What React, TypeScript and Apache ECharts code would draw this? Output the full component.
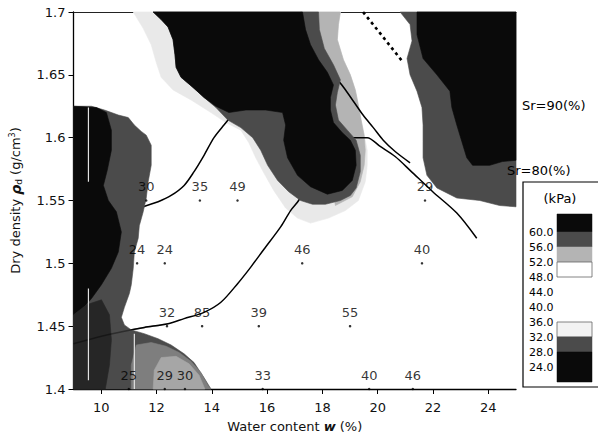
import { useEffect, useRef } from "react";
import * as echarts from "echarts";

type Pt = [number, number];

// Axis ticks
const xTicks = [10, 12, 14, 16, 18, 20, 22, 24];
const yTicks = [1.4, 1.45, 1.5, 1.55, 1.6, 1.65, 1.7];

// Test points: water content w (%), dry density (g/cm3), strength (kPa)
const sampleW = [11.63, 13.57, 14.93, 21.71, 11.3, 12.3, 17.27, 21.6, 12.38, 13.65, 15.7, 19.0, 11.0, 12.3, 13.03, 15.84, 19.69, 21.27];
const sampleRho = [1.55, 1.55, 1.55, 1.55, 1.5, 1.5, 1.5, 1.5, 1.45, 1.45, 1.45, 1.45, 1.4, 1.4, 1.4, 1.4, 1.4, 1.4];
const sampleKPa = [30, 35, 49, 29, 24, 24, 46, 40, 32, 85, 39, 55, 25, 29, 30, 33, 40, 46];

// Contour bands (w, rho_d outlines)
const upperPale: Pt[] = [[11.16,1.700],[11.52,1.687],[11.81,1.674],[11.99,1.660],[12.17,1.648],[12.60,1.638],[13.25,1.630],[13.97,1.620],[14.51,1.612],[15.05,1.606],[15.34,1.596],[15.59,1.584],[15.88,1.572],[16.24,1.558],[16.67,1.544],[17.10,1.536],[17.57,1.532],[18.22,1.536],[18.83,1.542],[19.30,1.550],[19.55,1.565],[19.62,1.578],[19.62,1.590],[19.51,1.602],[19.40,1.614],[19.30,1.626],[19.19,1.638],[19.01,1.650],[18.76,1.662],[18.54,1.678],[18.58,1.690],[18.65,1.700]];
const upperLight: Pt[] = [[17.21,1.700],[18.65,1.700],[18.58,1.690],[18.54,1.678],[18.76,1.662],[19.01,1.650],[19.19,1.638],[19.30,1.626],[19.40,1.614],[19.51,1.602],[19.55,1.590],[19.51,1.578],[19.37,1.565],[19.08,1.553],[18.47,1.546]];
const upperDark: Pt[] = [[11.88,1.700],[12.17,1.694],[12.42,1.688],[12.60,1.678],[12.67,1.666],[12.71,1.656],[12.89,1.648],[13.32,1.640],[13.72,1.632],[14.15,1.624],[14.58,1.614],[15.05,1.608],[15.48,1.600],[15.77,1.590],[16.02,1.578],[16.38,1.566],[16.78,1.557],[17.21,1.550],[17.64,1.547],[18.11,1.547],[18.65,1.550],[19.01,1.554],[19.22,1.560],[19.37,1.573],[19.37,1.586],[19.22,1.598],[18.90,1.606],[18.58,1.614],[18.47,1.626],[18.54,1.636],[18.65,1.646],[18.40,1.658],[18.07,1.671],[17.89,1.686],[17.86,1.700]];
const upperCore: Pt[] = [[11.88,1.700],[12.17,1.694],[12.42,1.688],[12.60,1.678],[12.67,1.666],[12.71,1.656],[12.89,1.648],[13.32,1.640],[13.72,1.632],[14.15,1.625],[14.62,1.620],[15.23,1.622],[15.95,1.622],[16.56,1.620],[16.67,1.610],[16.60,1.598],[16.74,1.584],[17.10,1.570],[17.57,1.561],[18.18,1.555],[18.72,1.558],[19.08,1.566],[19.22,1.578],[19.19,1.590],[19.01,1.598],[18.72,1.604],[18.40,1.612],[18.29,1.622],[18.29,1.632],[18.40,1.642],[18.18,1.652],[17.86,1.662],[17.57,1.674],[17.39,1.686],[17.28,1.700]];
const rightDark: Pt[] = [[20.81,1.700],[21.17,1.690],[21.24,1.677],[21.06,1.663],[21.17,1.650],[21.42,1.637],[21.60,1.624],[21.64,1.610],[21.64,1.597],[21.64,1.584],[21.78,1.570],[22.14,1.560],[22.86,1.552],[23.69,1.550],[24.41,1.546],[25,1.545],[25,1.700]];
const rightCore: Pt[] = [[21.42,1.700],[21.42,1.682],[21.64,1.663],[22.14,1.650],[22.61,1.637],[22.68,1.624],[22.86,1.610],[23.04,1.597],[23.22,1.584],[23.43,1.578],[24.05,1.578],[24.51,1.581],[25,1.582],[25,1.700]];
const leftDark: Pt[] = [[9,1.625],[9.65,1.625],[10.12,1.622],[10.62,1.618],[10.98,1.616],[11.20,1.610],[11.45,1.605],[11.63,1.602],[11.81,1.594],[11.81,1.578],[11.70,1.565],[11.63,1.552],[11.52,1.541],[11.38,1.530],[11.34,1.520],[11.20,1.509],[11.16,1.496],[11.09,1.483],[11.02,1.476],[10.84,1.465],[10.73,1.457],[10.84,1.451],[11.09,1.447],[11.56,1.444],[12.06,1.440],[12.53,1.435],[13.00,1.428],[13.36,1.421],[13.72,1.409],[13.97,1.400],[9,1.400]];
const leftCore: Pt[] = [[9,1.625],[9.83,1.624],[10.19,1.620],[10.37,1.606],[10.37,1.590],[10.22,1.574],[10.08,1.562],[10.26,1.550],[10.55,1.541],[10.73,1.525],[10.62,1.509],[10.37,1.496],[10.01,1.483],[9.65,1.472],[9.29,1.463],[9,1.459]];
const lowerCore: Pt[] = [[9,1.459],[9.47,1.467],[10.01,1.471],[10.30,1.459],[10.37,1.439],[10.30,1.419],[10.15,1.400],[9,1.400]];
const lowerMid: Pt[] = [[11.27,1.435],[11.81,1.437],[12.35,1.434],[12.82,1.429],[13.25,1.422],[13.61,1.413],[13.86,1.403],[13.97,1.400],[11.09,1.400],[11.09,1.419]];
const lowerLight: Pt[] = [[12.17,1.425],[12.71,1.426],[13.18,1.420],[13.54,1.411],[13.75,1.400],[11.88,1.400],[11.92,1.415]];

// Compaction curves and saturation line
const curveLowW = [9.00,10.01,10.84,11.56,12.42,13.00,13.72,14.33,14.94,15.41,15.88,16.49,16.85,17.14,17.57,18.11,18.65,19.12,19.62,20.09,20.63,21.17,21.99,22.86,23.58];
const curveLowRho = [1.436,1.442,1.446,1.449,1.452,1.456,1.461,1.469,1.484,1.497,1.511,1.529,1.542,1.550,1.568,1.585,1.596,1.600,1.600,1.593,1.585,1.574,1.557,1.540,1.520];
const curveHighW = [11.38,11.52,12.06,12.53,13.00,13.36,13.72,14.08,14.44,15.05,15.95,17.03,17.93,18.54,19.12,19.47,19.84,20.20,20.63,21.17];
const curveHighRho = [1.543,1.545,1.549,1.554,1.562,1.573,1.586,1.600,1.610,1.626,1.642,1.652,1.654,1.646,1.629,1.618,1.608,1.598,1.589,1.580];
const dottedW = [19.47, 20.09, 20.88];
const dottedRho = [1.700, 1.683, 1.661];

// Light scan stripes in the dark band
const stripeW = [9.54, 9.54, 11.2];
const stripeTop = [1.624, 1.48, 1.444];
const stripeBottom = [1.565, 1.407, 1.4];

// Colour scale (kPa)
const legendTicks = [60, 56, 52, 48, 44, 40, 36, 32, 28, 24];
const legendBands: [number, number][] = [[64.8, 60], [60, 56], [56, 52], [52, 48], [36, 32], [32, 28], [28, 20]];

const BLACK = "#0a0a0a";
const DARK = "#4b4b4b";
const MID = "#7e7e7e";
const LIGHT = "#b4b4b4";
const PALE = "#e9e9e9";
const legendFills = [BLACK, DARK, LIGHT, "#ffffff", "#f3f3f3", DARK, BLACK];

const FONT = '"DejaVu Sans", "Liberation Sans", sans-serif';

// Light bands sit below the curves, dark bands cover them
const lightRegions: { pts: Pt[]; fill: string }[] = [
  { pts: upperPale, fill: PALE },
  { pts: upperLight, fill: LIGHT },
];
const darkRegions: { pts: Pt[]; fill: string }[] = [
  { pts: upperDark, fill: DARK },
  { pts: upperCore, fill: BLACK },
  { pts: rightDark, fill: DARK },
  { pts: rightCore, fill: BLACK },
  { pts: leftDark, fill: DARK },
  { pts: leftCore, fill: BLACK },
  { pts: lowerCore, fill: "#262626" },
  { pts: lowerMid, fill: MID },
  { pts: lowerLight, fill: "#a6a6a6" },
];

const zip = (a: number[], b: number[]) => a.map((v, i) => [v, b[i]]);

function legendY(v: number) {
  return 232 + (60 - v) * 3.75;
}

function bandSeries(list: { pts: Pt[]; fill: string }[], z: number) {
  return {
    type: "custom",
    coordinateSystem: "cartesian2d",
    silent: true,
    z,
    data: list.map((r) => r.pts[0]),
    renderItem: (params: any, api: any) => {
      const r = list[params.dataIndex];
      return {
        type: "polygon",
        shape: { points: r.pts.map((p) => api.coord(p)) },
        style: { fill: r.fill, stroke: r.fill, lineWidth: 0.6 },
      };
    },
  };
}

function curve(name: string, w: number[], rho: number[], z: number, opacity: number) {
  return {
    type: "line",
    name,
    z,
    silent: true,
    showSymbol: false,
    smooth: 0.3,
    data: zip(w, rho),
    lineStyle: { color: "#000", width: 1.5, opacity },
  };
}

function buildOption(): any {
  const graphics: any[] = [
    {
      type: "rect",
      z: 10,
      shape: { x: 523, y: 182, width: 90, height: 205 },
      style: { fill: "#fff", stroke: "#000", lineWidth: 1.2 },
    },
    {
      type: "text",
      z: 11,
      x: 560,
      y: 198,
      style: { text: "(kPa)", fontSize: 13, fontFamily: FONT, fill: "#000", align: "center", verticalAlign: "middle" },
    },
  ];
  legendBands.forEach(([hi, lo], i) => {
    const white = legendFills[i] === "#ffffff" || legendFills[i] === "#f3f3f3";
    graphics.push({
      type: "rect",
      z: 11,
      shape: { x: 557, y: legendY(hi), width: 35, height: legendY(lo) - legendY(hi) },
      style: { fill: legendFills[i], stroke: white ? "#666" : legendFills[i], lineWidth: white ? 0.8 : 0.5 },
    });
  });
  legendTicks.forEach((v) => {
    graphics.push({
      type: "text",
      z: 11,
      x: 529,
      y: legendY(v),
      style: { text: v.toFixed(1), fontSize: 11, fontFamily: FONT, fill: "#000", verticalAlign: "middle" },
    });
  });
  graphics.push(
    {
      type: "text",
      z: 11,
      x: 522,
      y: 105,
      style: { text: "Sr=90(%)", fontSize: 13, fontFamily: FONT, fill: "#000", verticalAlign: "middle" },
    },
    {
      type: "text",
      z: 11,
      x: 507,
      y: 170,
      style: { text: "Sr=80(%)", fontSize: 13, fontFamily: FONT, fill: "#000", verticalAlign: "middle" },
    }
  );

  return {
    animation: false,
    backgroundColor: "#fff",
    grid: { left: 72, top: 12, width: 444, height: 377 },
    xAxis: [
      {
        type: "value",
        min: 9,
        max: 25,
        position: "bottom",
        axisLine: { show: true, onZero: false, lineStyle: { color: "#000", width: 1.3 } },
        axisTick: { show: true, inside: false, length: 5, customValues: xTicks, lineStyle: { color: "#000" } },
        axisLabel: { customValues: xTicks, margin: 12, fontSize: 13, fontFamily: FONT, color: "#111" },
        splitLine: { show: false },
        name: "Water content {w|w} (%)",
        nameLocation: "middle",
        nameGap: 31,
        nameTextStyle: {
          fontSize: 13,
          fontFamily: FONT,
          color: "#111",
          rich: { w: { fontSize: 13, fontFamily: FONT, fontWeight: "bold", fontStyle: "italic", color: "#111" } },
        },
      },
      {
        type: "value",
        min: 9,
        max: 25,
        position: "top",
        axisLine: { show: true, onZero: false, lineStyle: { color: "#222", width: 1 } },
        axisTick: { show: false },
        axisLabel: { show: false },
        splitLine: { show: false },
      },
    ],
    yAxis: {
      type: "value",
      min: 1.4,
      max: 1.7,
      axisLine: { show: true, onZero: false, lineStyle: { color: "#000", width: 1.3 } },
      axisTick: { show: true, inside: false, length: 5, customValues: yTicks, lineStyle: { color: "#000" } },
      axisLabel: {
        customValues: yTicks,
        margin: 8,
        fontSize: 13,
        fontFamily: FONT,
        color: "#111",
        formatter: (v: number) => String(parseFloat(Number(v).toFixed(2))),
      },
      splitLine: { show: false },
      name: "Dry density {rho|ρ}{sub|d} (g/cm{sup|3})",
      nameLocation: "middle",
      nameGap: 50,
      nameRotate: 90,
      nameTextStyle: {
        fontSize: 13,
        fontFamily: FONT,
        color: "#111",
        rich: {
          rho: { fontSize: 14, fontFamily: FONT, fontWeight: "bold", fontStyle: "italic", color: "#111" },
          sub: { fontSize: 9, fontFamily: FONT, color: "#111", padding: [7, 0, 0, 0] },
          sup: { fontSize: 8, fontFamily: FONT, color: "#111", padding: [0, 0, 7, 0] },
        },
      },
    },
    series: [
      bandSeries(lightRegions, 1),
      curve("lower", curveLowW, curveLowRho, 2, 1),
      curve("upper", curveHighW, curveHighRho, 2, 1),
      {
        type: "line",
        name: "saturation",
        z: 2,
        silent: true,
        showSymbol: false,
        data: zip(dottedW, dottedRho),
        lineStyle: { color: "#000", width: 2.6, type: [3, 3.5] },
      },
      bandSeries(darkRegions, 3),
      // faint trace of the lower curve where it crosses the grey band on the left
      curve("lower-trace", curveLowW.slice(0, 5), curveLowRho.slice(0, 5), 4, 0.4),
      ...stripeW.map((w, i) => ({
        type: "line",
        silent: true,
        z: 4,
        showSymbol: false,
        data: [[w, stripeTop[i]], [w, stripeBottom[i]]],
        lineStyle: { color: "#e2e2e2", width: 1.2 },
      })),
      {
        type: "scatter",
        z: 5,
        clip: false,
        silent: true,
        symbol: "circle",
        symbolSize: 2.5,
        itemStyle: { color: "#000" },
        data: sampleW.map((w, i) => [w, sampleRho[i], sampleKPa[i]]),
        label: {
          show: true,
          position: "top",
          distance: 6,
          fontSize: 13,
          fontFamily: FONT,
          color: "#000",
          formatter: (p: any) => String(p.value[2]),
        },
      },
    ],
    graphic: graphics,
  };
}

export default function App() {
  const ref = useRef<HTMLDivElement>(null);
  useEffect(() => {
    if (!ref.current) return;
    const chart = echarts.init(ref.current, null, { renderer: "svg" });
    chart.setOption(buildOption());
    return () => chart.dispose();
  }, []);
  return (
    <div
      ref={ref}
      style={{ position: "fixed", left: 0, top: 0, width: 598, height: 442, background: "#fff" }}
    />
  );
}
